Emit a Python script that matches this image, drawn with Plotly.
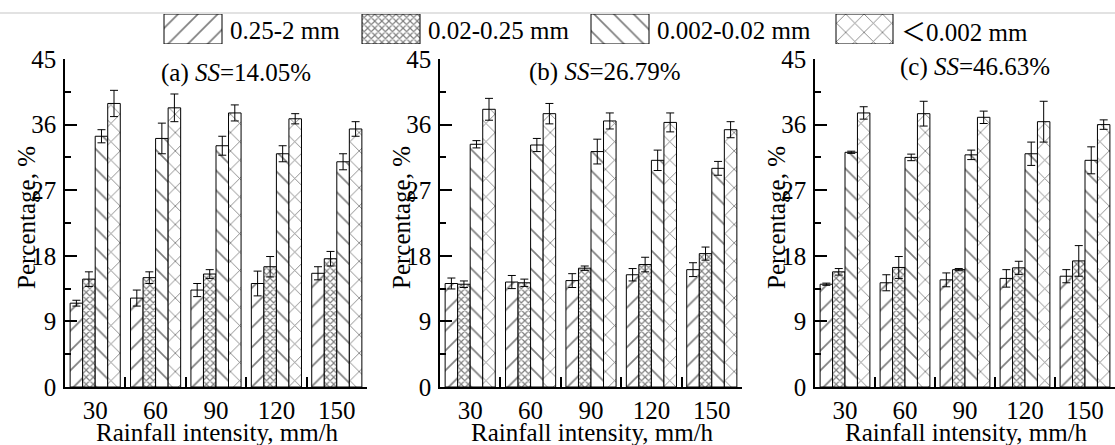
import plotly.graph_objects as go

W, H = 1115, 445

categories = ["30", "60", "90", "120", "150"]
series_names = ["0.25-2 mm", "0.02-0.25 mm", "0.002-0.02 mm",
                "<span style=\"font-family:'Noto Sans CJK SC'\">＜</span>0.002 mm"]
panel_titles = ["(a) <i>SS</i>=14.05%", "(b) <i>SS</i>=26.79%", "(c) <i>SS</i>=46.63%"]
y_ticks = [0, 9, 18, 27, 36, 45]

# Panel (a) SS=14.05%
a_coarse = [11.5, 12.2, 13.3, 14.2, 15.6]
a_coarse_err = [0.4, 1.1, 0.9, 1.7, 0.9]
a_fine = [14.8, 15.0, 15.5, 16.5, 17.6]
a_fine_err = [1.0, 0.8, 0.6, 1.4, 1.0]
a_silt = [34.4, 34.1, 33.1, 32.0, 30.9]
a_silt_err = [0.9, 2.1, 1.3, 1.1, 1.1]
a_clay = [38.9, 38.3, 37.6, 36.8, 35.4]
a_clay_err = [1.8, 1.9, 1.1, 0.7, 1.0]

# Panel (b) SS=26.79%
b_coarse = [14.2, 14.4, 14.6, 15.4, 16.1]
b_coarse_err = [0.75, 0.9, 0.95, 0.85, 0.95]
b_fine = [14.1, 14.3, 16.3, 16.8, 18.3]
b_fine_err = [0.45, 0.5, 0.3, 1.0, 0.9]
b_silt = [33.3, 33.2, 32.3, 31.1, 30.0]
b_silt_err = [0.5, 0.9, 1.7, 1.4, 0.95]
b_clay = [38.1, 37.5, 36.5, 36.3, 35.3]
b_clay_err = [1.5, 1.4, 1.1, 1.3, 1.1]

# Panel (c) SS=46.63%
c_coarse = [14.1, 14.3, 14.7, 14.9, 15.2]
c_coarse_err = [0.15, 1.1, 0.95, 1.2, 0.9]
c_fine = [15.8, 16.4, 16.1, 16.35, 17.3]
c_fine_err = [0.45, 1.5, 0.15, 0.9, 2.1]
c_silt = [32.2, 31.5, 31.85, 32.0, 31.1]
c_silt_err = [0.15, 0.45, 0.65, 1.6, 1.85]
c_clay = [37.6, 37.5, 37.0, 36.4, 36.0]
c_clay_err = [0.85, 1.7, 0.85, 2.8, 0.65]

panels = [
    [(a_coarse, a_coarse_err), (a_fine, a_fine_err), (a_silt, a_silt_err), (a_clay, a_clay_err)],
    [(b_coarse, b_coarse_err), (b_fine, b_fine_err), (b_silt, b_silt_err), (b_clay, b_clay_err)],
    [(c_coarse, c_coarse_err), (c_fine, c_fine_err), (c_silt, c_silt_err), (c_clay, c_clay_err)],
]

FONT = "Liberation Serif"
FS = 25

patterns = [
    dict(shape="/", size=14, solidity=0.12),
    dict(shape="x", size=5, solidity=0.42),
    dict(shape="\\", size=14, solidity=0.12),
    dict(shape="x", size=13, solidity=0.13),
]


def px_x(v):
    return v / W


def px_y(v):
    return (H - v) / H


panel_x = [(65, 367), (440, 742), (815, 1115)]
y_dom = [px_y(387), px_y(59)]

fig = go.Figure()

for p, series in enumerate(panels):
    xa = "x" if p == 0 else f"x{p+1}"
    ya = "y" if p == 0 else f"y{p+1}"
    for s, (vals, errs) in enumerate(series):
        pat = patterns[s]
        fig.add_trace(go.Bar(
            x=categories, y=vals, name=series_names[s],
            xaxis=xa, yaxis=ya, showlegend=False,
            offsetgroup=str(s),
            marker=dict(color="white", line=dict(color="black", width=1),
                        pattern=dict(shape=pat["shape"], size=pat["size"], solidity=pat["solidity"],
                                     fgcolor="black", bgcolor="white", fillmode="overlay")),
            error_y=dict(type="data", array=errs, visible=True, color="black", thickness=1, width=4),
        ))

# legend built from bars in a dedicated axis
leg_boxes = [(164, 222), (362, 420), (591, 649), (836, 893)]
for s, (x0, x1) in enumerate(leg_boxes):
    pat = patterns[s]
    fig.add_trace(go.Bar(
        x=[(x0 + x1) / 2], y=[1], width=[x1 - x0], base=0,
        xaxis="x4", yaxis="y4", showlegend=False, hoverinfo="skip",
        marker=dict(color="white", line=dict(color="black", width=1),
                    pattern=dict(shape=pat["shape"], size=pat["size"], solidity=pat["solidity"],
                                 fgcolor="black", bgcolor="white", fillmode="overlay")),
    ))

layout = dict(
    width=W, height=H, margin=dict(l=0, r=0, t=0, b=0, autoexpand=False),
    paper_bgcolor="white", plot_bgcolor="white",
    barmode="group", bargap=0.17, bargroupgap=0,
    font=dict(family=FONT, size=FS, color="black"),
    xaxis4=dict(domain=[0, 1], range=[0, W], visible=False, anchor="y4", automargin=False),
    yaxis4=dict(domain=[px_y(44), px_y(14)], range=[0, 1], visible=False, anchor="x4", automargin=False),
)

annotations = []
for p in range(3):
    sx = "" if p == 0 else str(p + 1)
    x0, x1 = panel_x[p]
    layout[f"xaxis{sx}"] = dict(
        domain=[px_x(x0), min(px_x(x1), 1.0)], anchor=f"y{sx}",
        type="category", range=[-0.5, 4.5], automargin=False,
        tickson="boundaries", ticks="inside", ticklen=10, tickwidth=1.5, tickcolor="black",
        showline=True, linecolor="black", linewidth=1.5,
        showgrid=False, zeroline=False,
        tickfont=dict(family=FONT, size=FS, color="black"),
        ticklabelstandoff=0,
    )
    layout[f"yaxis{sx}"] = dict(
        domain=y_dom, anchor=f"x{sx}", range=[0, 45], automargin=False,
        tickmode="array", tickvals=y_ticks, ticktext=[str(t) for t in y_ticks],
        ticks="inside", ticklen=12, tickwidth=1.5, tickcolor="black",
        minor=dict(ticks="inside", ticklen=6, tickwidth=1.5, tickcolor="black",
                   tick0=0, dtick=4.5, showgrid=False),
        showline=True, linecolor="black", linewidth=1.5,
        showgrid=False, zeroline=False,
        tickfont=dict(family=FONT, size=FS, color="black"),
        ticklabelstandoff=2,
    )
    # y title
    annotations.append(dict(
        text="Percentage, %", textangle=-90, xref="paper", yref="paper",
        x=px_x(x0 - 39), y=px_y(218), xanchor="center", yanchor="middle",
        showarrow=False, font=dict(family=FONT, size=FS, color="black"),
    ))
    # x title
    annotations.append(dict(
        text="Rainfall intensity, mm/h", xref="paper", yref="paper",
        x=px_x((x0 + min(x1, W)) / 2 + 1), y=px_y(432), xanchor="center", yanchor="middle",
        showarrow=False, font=dict(family=FONT, size=FS, color="black"),
    ))

title_pos = [(236, 73), (605, 72), (975, 67)]
for p, (tx, ty) in enumerate(title_pos):
    annotations.append(dict(
        text=panel_titles[p], xref="paper", yref="paper",
        x=px_x(tx), y=px_y(ty), xanchor="center", yanchor="middle",
        showarrow=False, font=dict(family=FONT, size=FS, color="black"),
    ))

for s, (x0, x1) in enumerate(leg_boxes):
    annotations.append(dict(
        text=series_names[s], xref="paper", yref="paper",
        x=px_x(x1 + 6), y=px_y(30), xanchor="left", yanchor="middle",
        showarrow=False, font=dict(family=FONT, size=FS, color="black"),
    ))

layout["annotations"] = annotations
layout["shapes"] = [dict(type="line", xref="paper", yref="paper", x0=0, x1=1,
                         y0=px_y(13), y1=px_y(13), line=dict(color="#d8d8d8", width=1.5))]

fig.update_layout(**layout)
fig.write_html("out.html")
